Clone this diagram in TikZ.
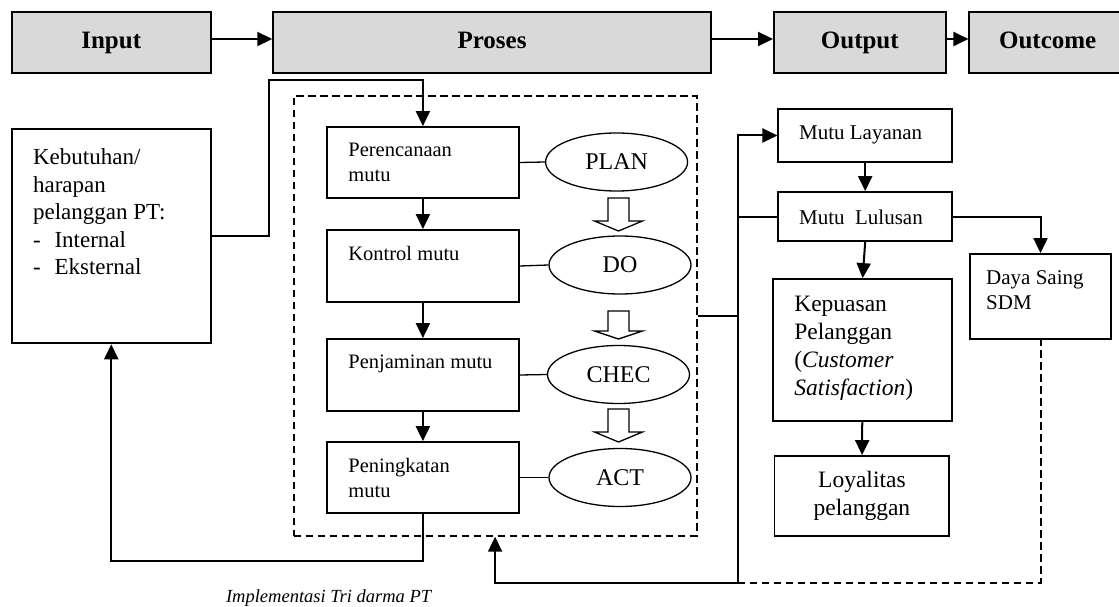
\documentclass[tikz,border=0pt]{standalone}
\usepackage{fontspec}
\setmainfont{Liberation Serif}
\usetikzlibrary{arrows.meta,shapes.geometric}
\definecolor{boxgray}{HTML}{D9D9D9}

% font size helper
\newcommand{\fsz}[2]{\fontsize{#1pt}{#2pt}\selectfont}
% hollow block arrow pointing down: x, top of stem, base of head, tip
\newcommand{\hollowdown}[4]{%
  \draw[line width=1.3pt, fill=white, line join=miter]
    ({#1-10.5},#2) -- ({#1+10.5},#2) -- ({#1+10.5},#3) -- ({#1+24},#3)
    -- (#1,#4) -- ({#1-24},#3) -- ({#1-10.5},#3) -- cycle;}

\begin{document}
\begin{tikzpicture}[x=1pt,y=-1pt,
  topbox/.style={draw, line width=1.8pt, fill=boxgray, minimum height=61pt,
    inner sep=0pt, text height=17pt, text depth=5.5pt, font=\bfseries\fsz{25}{30}},
  plainbox/.style={draw, line width=1.8pt, inner sep=0pt},
  pdcabox/.style={plainbox, minimum width=192pt},
  oval/.style={draw, ellipse, line width=1.3pt, minimum width=142pt,
    minimum height=58pt, inner sep=0pt, font=\fsz{24}{28}},
  boxtext/.style={inner sep=0pt, anchor=north west, align=left},
  arr/.style={line width=2pt, -{Triangle[length=15pt,width=14pt]}},
  link/.style={line width=2pt},
  thinlink/.style={line width=1.3pt},
  dashline/.style={line width=2pt, dash pattern=on 7.5pt off 4.5pt},
]
\useasboundingbox (0,0) rectangle (1119,607);
\clip (0,0) rectangle (1119,607);

% top row
\node[topbox, minimum width=199pt] (input) at (111.25,42.5) {Input};
\node[topbox, minimum width=437.6pt] (proses) at (492,42.5) {Proses};
\node[topbox, minimum width=171.8pt] (output) at (859.8,42.5) {Output};
\node[topbox, minimum width=156.7pt] (outcome) at (1047.7,42.5) {Outcome};
\draw[arr] ([yshift=3.5pt]input.east) -- ([yshift=3.5pt]proses.west);
\draw[arr] ([yshift=3.5pt]proses.east) -- ([yshift=3.5pt]output.west);
\draw[arr] ([yshift=3.5pt]output.east) -- ([yshift=3.5pt]outcome.west);

% customer needs
\node[plainbox, minimum width=199pt, minimum height=214.3pt] (keb) at (111.25,236.2) {};
\node[boxtext, font=\fsz{23}{27.5}] (kebt) at (32.9,148.7)
  {Kebutuhan/\\harapan\\pelanggan PT:\\-\hspace{0.6em}Internal\\-\hspace{0.6em}Eksternal};

% PDCA frame
\node[draw, dashline, minimum width=403pt, minimum height=440pt, inner sep=0pt] (pdca) at (495.1,315.7) {};

\node[pdcabox, minimum height=71pt] (per) at (422.9,162.5) {};
\node[pdcabox, minimum height=72pt] (kon) at (422.9,266) {};
\node[pdcabox, minimum height=72pt] (penj) at (422.9,375) {};
\node[pdcabox, minimum height=71pt] (pen) at (422.9,477.5) {};
\node[boxtext, font=\fsz{20.5}{25}] (pert) at (348.2,142.6) {Perencanaan\\mutu};
\node[boxtext, font=\fsz{20.5}{25}] (kont) at (348.2,245.6) {Kontrol mutu};
\node[boxtext, font=\fsz{20.5}{25}] (penjt) at (348.2,355) {Penjaminan mutu};
\node[boxtext, font=\fsz{20.5}{25}] (pent) at (348.2,458) {Peningkatan\\mutu};

\node[oval] (plan) at (616.6,162) {PLAN};
\node[oval] (do) at (620,265) {DO};
\node[oval] (chec) at (618.5,374.5) {CHEC};
\node[oval] (act) at (620,477.5) {ACT};

\draw[thinlink] (per.east) -- (plan.west);
\draw[thinlink] (kon.east) -- (do.west);
\draw[thinlink] (penj.east) -- (chec.west);
\draw[thinlink] (pen.east) -- (act.west);

\hollowdown{618.5}{198}{221}{231}
\hollowdown{618.5}{311}{331}{339}
\hollowdown{618.5}{409}{432}{442}

\draw[arr] (per) -- (kon);
\draw[arr] (kon) -- (penj);
\draw[arr] (penj) -- (pen);

% needs into planning
\coordinate (k1) at (268.6,80);
\draw[arr] (keb.east) -| (k1) -| (per.north);
% improvement back to needs
\coordinate (fb) at (300,561);
\draw[arr] (pen.south) |- (fb) -| (keb.south);

% outputs and outcomes
\node[plainbox, minimum width=173.7pt, minimum height=53pt] (ml) at (865.2,135.5) {};
\node[inner sep=0pt, anchor=west, font=\fsz{21}{25}] (mlt) at (798.9,135) {Mutu Layanan};
\node[plainbox, minimum width=173.7pt, minimum height=49pt] (mlu) at (865.2,216.5) {};
\node[inner sep=0pt, anchor=west, font=\fsz{21}{25}] (mlut) at (798.9,217) {Mutu\ \ Lulusan};
\node[plainbox, minimum width=141.3pt, minimum height=85pt] (daya) at (1040.5,296.5) {};
\node[boxtext, font=\fsz{21}{25}] (dayat) at (986,270.4) {Daya Saing\\SDM};
\node[plainbox, minimum width=178.8pt, minimum height=142pt] (kep) at (862.6,350) {};
\node[boxtext, font=\fsz{23.5}{28.3}] (kept) at (794.1,295.5)
  {Kepuasan\\Pelanggan\\(\textit{Customer}\\\textit{Satisfaction})};
\node[plainbox, minimum width=174.9pt, minimum height=80pt, align=center,
  font=\fsz{23.5}{28}] (loy) at (861.9,496) {Loyalitas\\pelanggan};

\coordinate (busbot) at (737.7,583);
\draw[arr] (busbot) |- (ml.west);
\draw[link] (pdca.east) -- (pdca.east -| busbot);
\draw[link] (mlu.west) -- (mlu.west -| busbot);
\draw[arr] (busbot) -| (pdca.south);
\draw[dashline] (busbot) -| (daya.south);

\draw[arr] (ml) -- (mlu);
\draw[arr] (mlu.south) -- (kep.north);
\draw[arr] (mlu.east) -| (daya.north);
\draw[arr] (kep) -- (loy);

% caption
\node[font=\itshape\fsz{18.5}{22}] (cap) at (328.6,598) {Implementasi Tri darma PT};
\end{tikzpicture}
\end{document}
